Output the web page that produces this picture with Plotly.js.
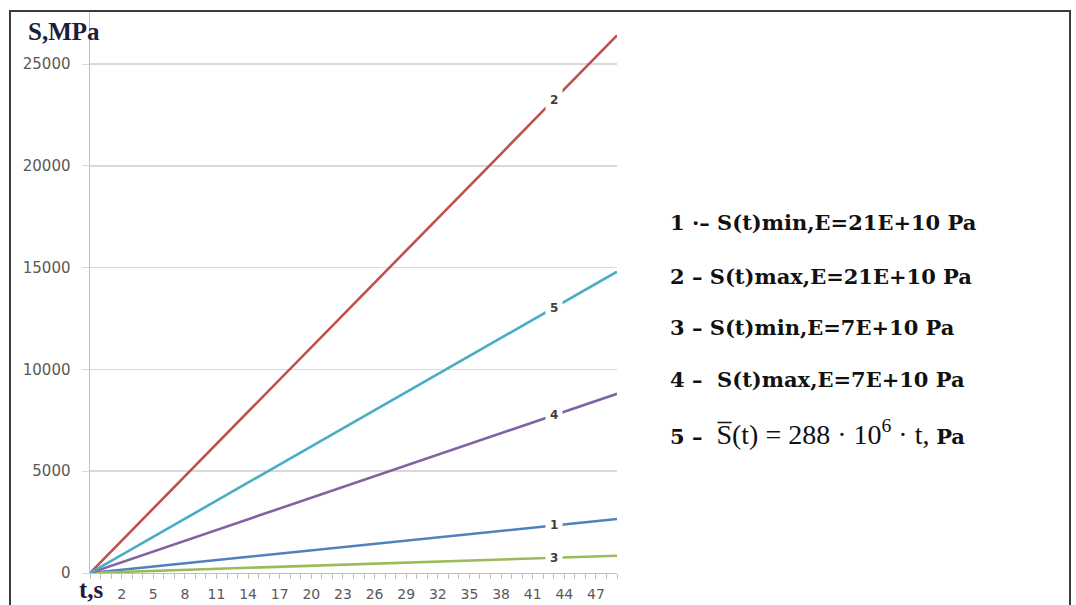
<!DOCTYPE html>
<html>
<head>
<meta charset="utf-8">
<script src="https://cdn.plot.ly/plotly-3.0.1.min.js"></script>
<style>
html,body{margin:0;padding:0;background:#fff;}
#wrap{position:relative;width:1076px;height:605px;}
#chart{width:1076px;height:605px;}
#frame{position:absolute;left:9px;top:10px;width:1058px;height:600px;border:2px solid #3c3c3c;border-bottom:none;pointer-events:none;}
</style>
</head>
<body>
<div id="wrap"><div id="chart"></div><div id="frame"></div></div>
<script>
// category index positions (every 3rd category plus the last one)
const tIndex = [0,3,6,9,12,15,18,21,24,27,30,33,36,39,42,45,48,50];
// x tick labels as printed under the axis, and their category positions
const tickPos = [3,6,9,12,15,18,21,24,27,30,33,36,39,42,45,48];
const tickLabels = ['2','5','8','11','14','17','20','23','26','29','32','35','38','41','44','47'];
// y tick values and labels
const yTickVals = [0,5000,10000,15000,20000,25000];
const yTickLabels = ['0','5000','10000','15000','20000','25000'];

// series values, MPa
const s1_minE21 = [0,160,320,480,640,800,950,1110,1270,1430,1590,1750,1910,2070,2230,2390,2540,2650];
const s2_maxE21 = [0,1580,3170,4750,6340,7920,9500,11090,12670,14260,15840,17420,19010,20590,22180,23760,25340,26400];
const s3_minE7  = [0,50,100,150,200,260,310,360,410,460,510,560,610,660,710,770,820,850];
const s4_maxE7  = [0,530,1060,1580,2110,2640,3170,3700,4220,4750,5280,5810,6340,6860,7390,7920,8450,8800];
const s5_mean   = [0,890,1780,2660,3550,4440,5330,6220,7100,7990,8880,9770,10660,11550,12430,13320,14210,14800];

const legendLines = [
  '<b>1 ·– S(t)min,E=21E+10 Pa</b>',
  '<b>2 – S(t)max,E=21E+10 Pa</b>',
  '<b>3 – S(t)min,E=7E+10 Pa</b>',
  '<b>4 –  S(t)max,E=7E+10 Pa</b>',
  '<b>5 – </b> <span style="font-family:Liberation Serif;font-size:28px">S\u0305(t) = 288 · 10<sup>6</sup> · t,</span> <b>Pa</b>'
];

const series = [
  {name:'1', y:s1_minE21, color:'#4f81bd'},
  {name:'2', y:s2_maxE21, color:'#c0504d'},
  {name:'3', y:s3_minE7,  color:'#9bbb59'},
  {name:'4', y:s4_maxE7,  color:'#8064a2'},
  {name:'5', y:s5_mean,   color:'#4bacc6'}
];

function interp(xs, ys, x){
  for(let i=0;i<xs.length-1;i++){
    if(x>=xs[i] && x<=xs[i+1]){
      const f=(x-xs[i])/(xs[i+1]-xs[i]);
      return ys[i]+f*(ys[i+1]-ys[i]);
    }
  }
  return ys[ys.length-1];
}

const traces = series.map(s => ({
  type:'scatter', mode:'lines', x:tIndex, y:s.y, name:s.name,
  line:{color:s.color, width:2.6}, hoverinfo:'skip'
}));

const labelAt = 44;
const annotations = series.map(s => ({
  x:labelAt, y:interp(tIndex, s.y, labelAt), xref:'x', yref:'y',
  text:'<b>'+s.name+'</b>', showarrow:false, bgcolor:'#ffffff', borderpad:4,
  font:{family:'DejaVu Sans', size:12, color:'#404040'}
}));

const legY = [0.624, 0.529, 0.4385, 0.3458, 0.2513];
legendLines.forEach((t,i)=>{
  annotations.push({
    x:1.097, y:legY[i], xref:'paper', yref:'paper', xanchor:'left', yanchor:'middle',
    text:t, showarrow:false,
    font:{family:'DejaVu Serif', size:21, color:'#111111'}
  });
});
annotations.push({
  x:-0.049, y:0.966, xref:'paper', yref:'paper', xanchor:'center', yanchor:'middle',
  text:'<b>S,MPa</b>', showarrow:false, font:{family:'Liberation Serif', size:25, color:'#1c1c3c'}
});
annotations.push({
  x:0.002, y:-0.030, xref:'paper', yref:'paper', xanchor:'center', yanchor:'middle',
  text:'<b>t,s</b>', showarrow:false, font:{family:'Liberation Serif', size:25, color:'#1c1c3c'}
});

const layout = {
  width:1076, height:605,
  margin:{l:90, r:459, t:12, b:32},
  paper_bgcolor:'#ffffff', plot_bgcolor:'#ffffff',
  showlegend:false,
  xaxis:{
    range:[0,50], tickmode:'array', tickvals:tickPos, ticktext:tickLabels,
    showgrid:false, zeroline:false, showline:true, linecolor:'#bfbfbf', linewidth:1,
    ticks:'outside', ticklen:5, tickcolor:'#bfbfbf', ticklabelstandoff:3,
    minor:{dtick:1, tick0:0, ticks:'outside', ticklen:5, tickcolor:'#bfbfbf', showgrid:false},
    tickfont:{family:'DejaVu Sans', size:14, color:'#595959'}
  },
  yaxis:{
    range:[0,27554], tickmode:'array', tickvals:yTickVals, ticktext:yTickLabels,
    showgrid:true, gridcolor:'#d9d9d9', gridwidth:1.5, zeroline:false,
    showline:true, linecolor:'#bfbfbf', linewidth:1.5,
    ticks:'outside', ticklen:7, tickcolor:'#d9d9d9', ticklabelstandoff:8,
    tickfont:{family:'DejaVu Sans', size:15, color:'#595959'}
  },
  annotations:annotations
};

Plotly.newPlot('chart', traces, layout, {displayModeBar:false, staticPlot:true});
</script>
</body>
</html>
